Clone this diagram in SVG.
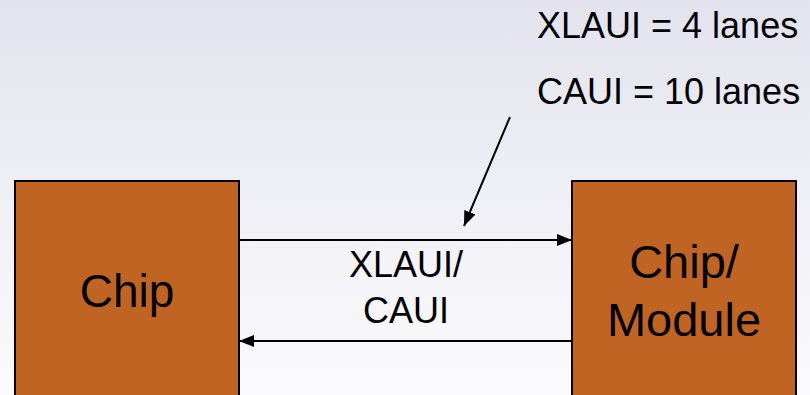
<svg xmlns="http://www.w3.org/2000/svg" width="810" height="395" viewBox="0 0 810 395">
<defs>
<linearGradient id="bg" x1="0" y1="0" x2="0" y2="1">
<stop offset="0" stop-color="#e3e3ee"/>
<stop offset="1" stop-color="#fbfbfd"/>
</linearGradient>
<marker id="ah" viewBox="0 0 15 12" refX="15" refY="6" markerWidth="15" markerHeight="12" markerUnits="userSpaceOnUse" orient="auto">
<path d="M0,0 L15,6 L0,12 Z" fill="#000"/>
</marker>
<style>
.box{fill:#c06424;stroke:#000;stroke-width:2}
.t{font-family:"Liberation Sans",Arial,sans-serif;fill:#000;text-anchor:middle}
.tl{font-family:"Liberation Sans",Arial,sans-serif;fill:#000}
.c{stroke:#000;stroke-width:2;fill:none;marker-end:url(#ah)}
</style>
</defs>
<rect x="0" y="0" width="810" height="395" fill="url(#bg)"/>
<g id="chip">
<rect class="box" x="15" y="181" width="224" height="230"/>
<text class="t" x="127" y="307" font-size="46">Chip</text>
</g>
<g id="module">
<rect class="box" x="572" y="181" width="224" height="230"/>
<text class="t" x="684" y="278" font-size="47">Chip/</text>
<text class="t" x="684" y="336" font-size="47">Module</text>
</g>
<g id="connectors">
<line class="c" x1="239" y1="240" x2="572" y2="240"/>
<line class="c" x1="572" y1="341" x2="239" y2="341"/>
<line class="c" x1="510" y1="117" x2="464" y2="226"/>
</g>
<g id="labels">
<text class="t" x="406" y="277" font-size="36">XLAUI/</text>
<text class="t" x="406" y="323" font-size="36">CAUI</text>
<text class="tl" x="537" y="38" font-size="36">XLAUI = 4 lanes</text>
<text class="tl" x="537" y="104" font-size="36">CAUI = 10 lanes</text>
</g>
</svg>
